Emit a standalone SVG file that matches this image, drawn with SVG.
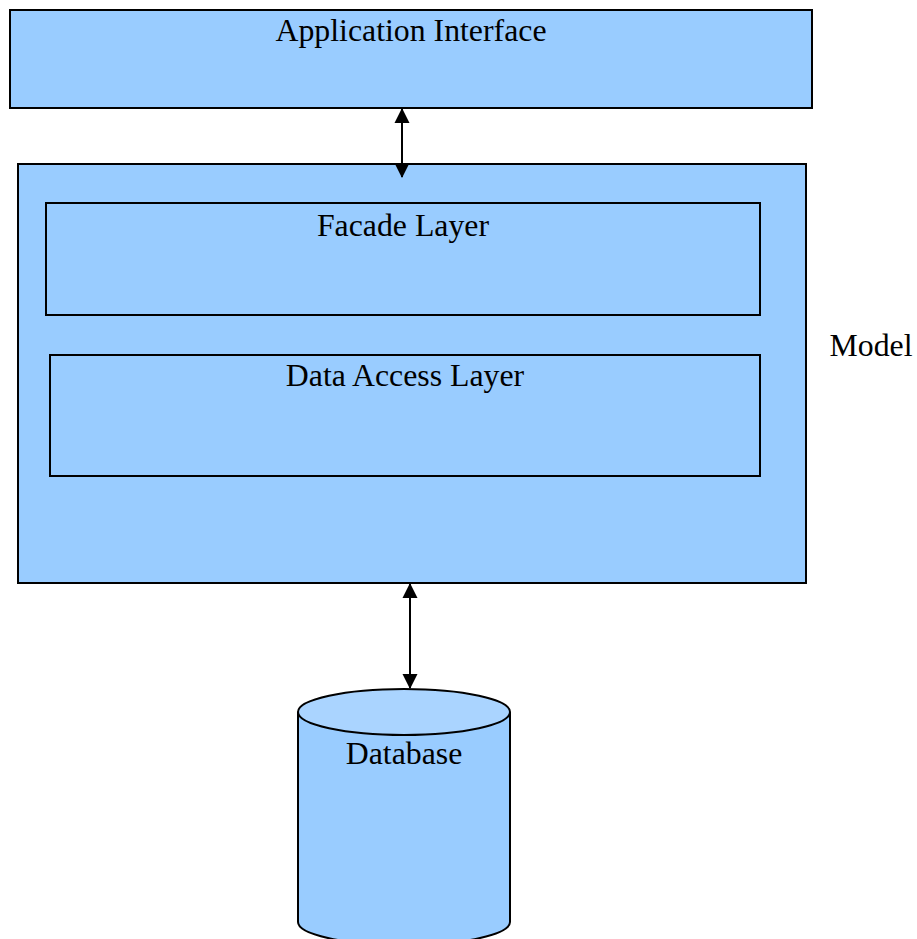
<svg xmlns="http://www.w3.org/2000/svg" width="917" height="939" viewBox="0 0 917 939">
<defs>
<style>
.box{fill:#99ccff;stroke:#000;stroke-width:2}
.lbl{font-family:"Liberation Serif","Times New Roman",serif;font-size:31.8px;fill:#000;text-anchor:middle}
.conn{stroke:#000;stroke-width:2;fill:none}
</style>
<marker id="ah" viewBox="0 0 15 16" refX="14" refY="8" markerWidth="15" markerHeight="16" markerUnits="userSpaceOnUse" orient="auto-start-reverse">
<path d="M0,0.5 L15,8 L0,15.5 Z" fill="#000"/>
</marker>
</defs>
<rect width="917" height="939" fill="#fff"/>
<g id="app-interface">
<rect class="box" x="10" y="10" width="802" height="98"/>
<text class="lbl" x="411" y="40.5">Application Interface</text>
</g>
<g id="model">
<rect class="box" x="18" y="164" width="788" height="419"/>
<text class="lbl" x="871" y="355.5">Model</text>
</g>
<g id="facade-layer">
<rect class="box" x="46" y="203" width="714" height="112"/>
<text class="lbl" x="403" y="236">Facade Layer</text>
</g>
<g id="data-access-layer">
<rect class="box" x="50" y="355" width="710" height="121"/>
<text class="lbl" x="405" y="386">Data Access Layer</text>
</g>
<g id="database">
<path class="box" d="M298,712 L298,922 A106,23 0 0 0 510,922 L510,712"/>
<ellipse cx="404" cy="712" rx="106" ry="23" fill="#aad4ff" stroke="#000" stroke-width="2"/>
<text class="lbl" x="404" y="763.5">Database</text>
</g>
<g id="connectors">
<line class="conn" x1="402" y1="109" x2="402" y2="177" marker-start="url(#ah)" marker-end="url(#ah)"/>
<line class="conn" x1="410" y1="584" x2="410" y2="688" marker-start="url(#ah)" marker-end="url(#ah)"/>
</g>
</svg>
